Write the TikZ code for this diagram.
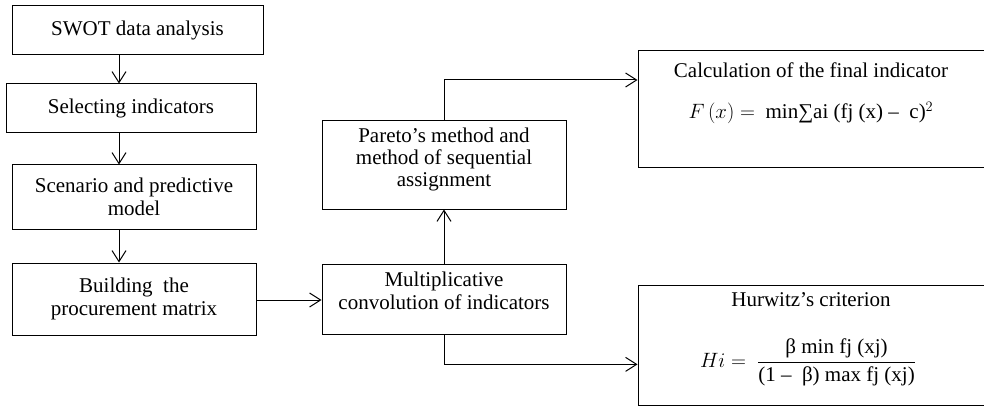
\documentclass[tikz,border=0pt]{standalone}
\usepackage{fontspec}
\setmainfont{Liberation Serif}
\usetikzlibrary{arrows.meta,calc}
\begin{document}
\begin{tikzpicture}[x=1pt,y=-1pt,
  box/.style={draw,line width=1pt,inner sep=0pt,align=center,
    font=\fontsize{21}{23}\selectfont},
  conn/.style={line width=1pt,-{Straight Barb[length=11pt,width=14pt,line width=1pt]}}]
\useasboundingbox (0,0) rectangle (984,406);
\clip (0,0) rectangle (984,406);
\node[box,minimum width=251,minimum height=49] (b1) at (137.5,30.5) {SWOT data analysis};
\node[box,minimum width=250,minimum height=49] (b2) at (131,108.5) {Selecting indicators};
\node[box,minimum width=244,minimum height=64] (b3) at (134,197) {Scenario and predictive\\model};
\node[box,minimum width=244,minimum height=72] (b4) at (134,299) {Building\ \ the\\procurement matrix};
\node[box,minimum width=244,minimum height=70] (b5) at (444,299) {};
\node[box,draw=none,anchor=north] at (444,271) {Multiplicative\\convolution of indicators};
\node[box,minimum width=244,minimum height=88] (b6) at (444,165) {};
\node[box,draw=none,anchor=north,font=\fontsize{21}{22}\selectfont] at (444,127) {Pareto’s method and\\method of sequential\\assignment};
\node[box,minimum width=352,minimum height=117] (b7) at (814,109.5) {};
\node[box,minimum width=352,minimum height=120] (b8) at (814,345) {};
\node[font=\fontsize{21}{23}\selectfont] (t7) at (811,70) {Calculation of the final indicator};
\node[font=\fontsize{21}{23}\selectfont] (f7) at (811,113) {$F\,(x) =\ $ min∑ai (fj (x) – \ c)$^{2}$};
\node[font=\fontsize{21}{23}\selectfont] (t8) at (811,300) {Hurwitz’s criterion};
\node[font=\fontsize{21}{23}\selectfont] (f8) at (808,362) {$Hi =\ \displaystyle\frac{\mbox{β min fj (xj)}}{\mbox{(1 – \ β) max fj (xj)}}$};
\coordinate (ax) at (119,0);
\draw[conn] (b1.south -| ax) -- (b2.north -| ax);
\draw[conn] (b2.south -| ax) -- (b3.north -| ax);
\draw[conn] (b3.south -| ax) -- (b4.north -| ax);
\draw[conn] (b4.east |- 0,300) -- (b5.west |- 0,300);
\draw[conn] (b5.north) -- (b6.south);
\draw[conn] (b6.north) |- ($(b7.north west)!0.25!(b7.south west)$);
\draw[conn] (b5.south) |- ($(b8.north west)!0.66!(b8.south west)$);
\end{tikzpicture}
\end{document}
